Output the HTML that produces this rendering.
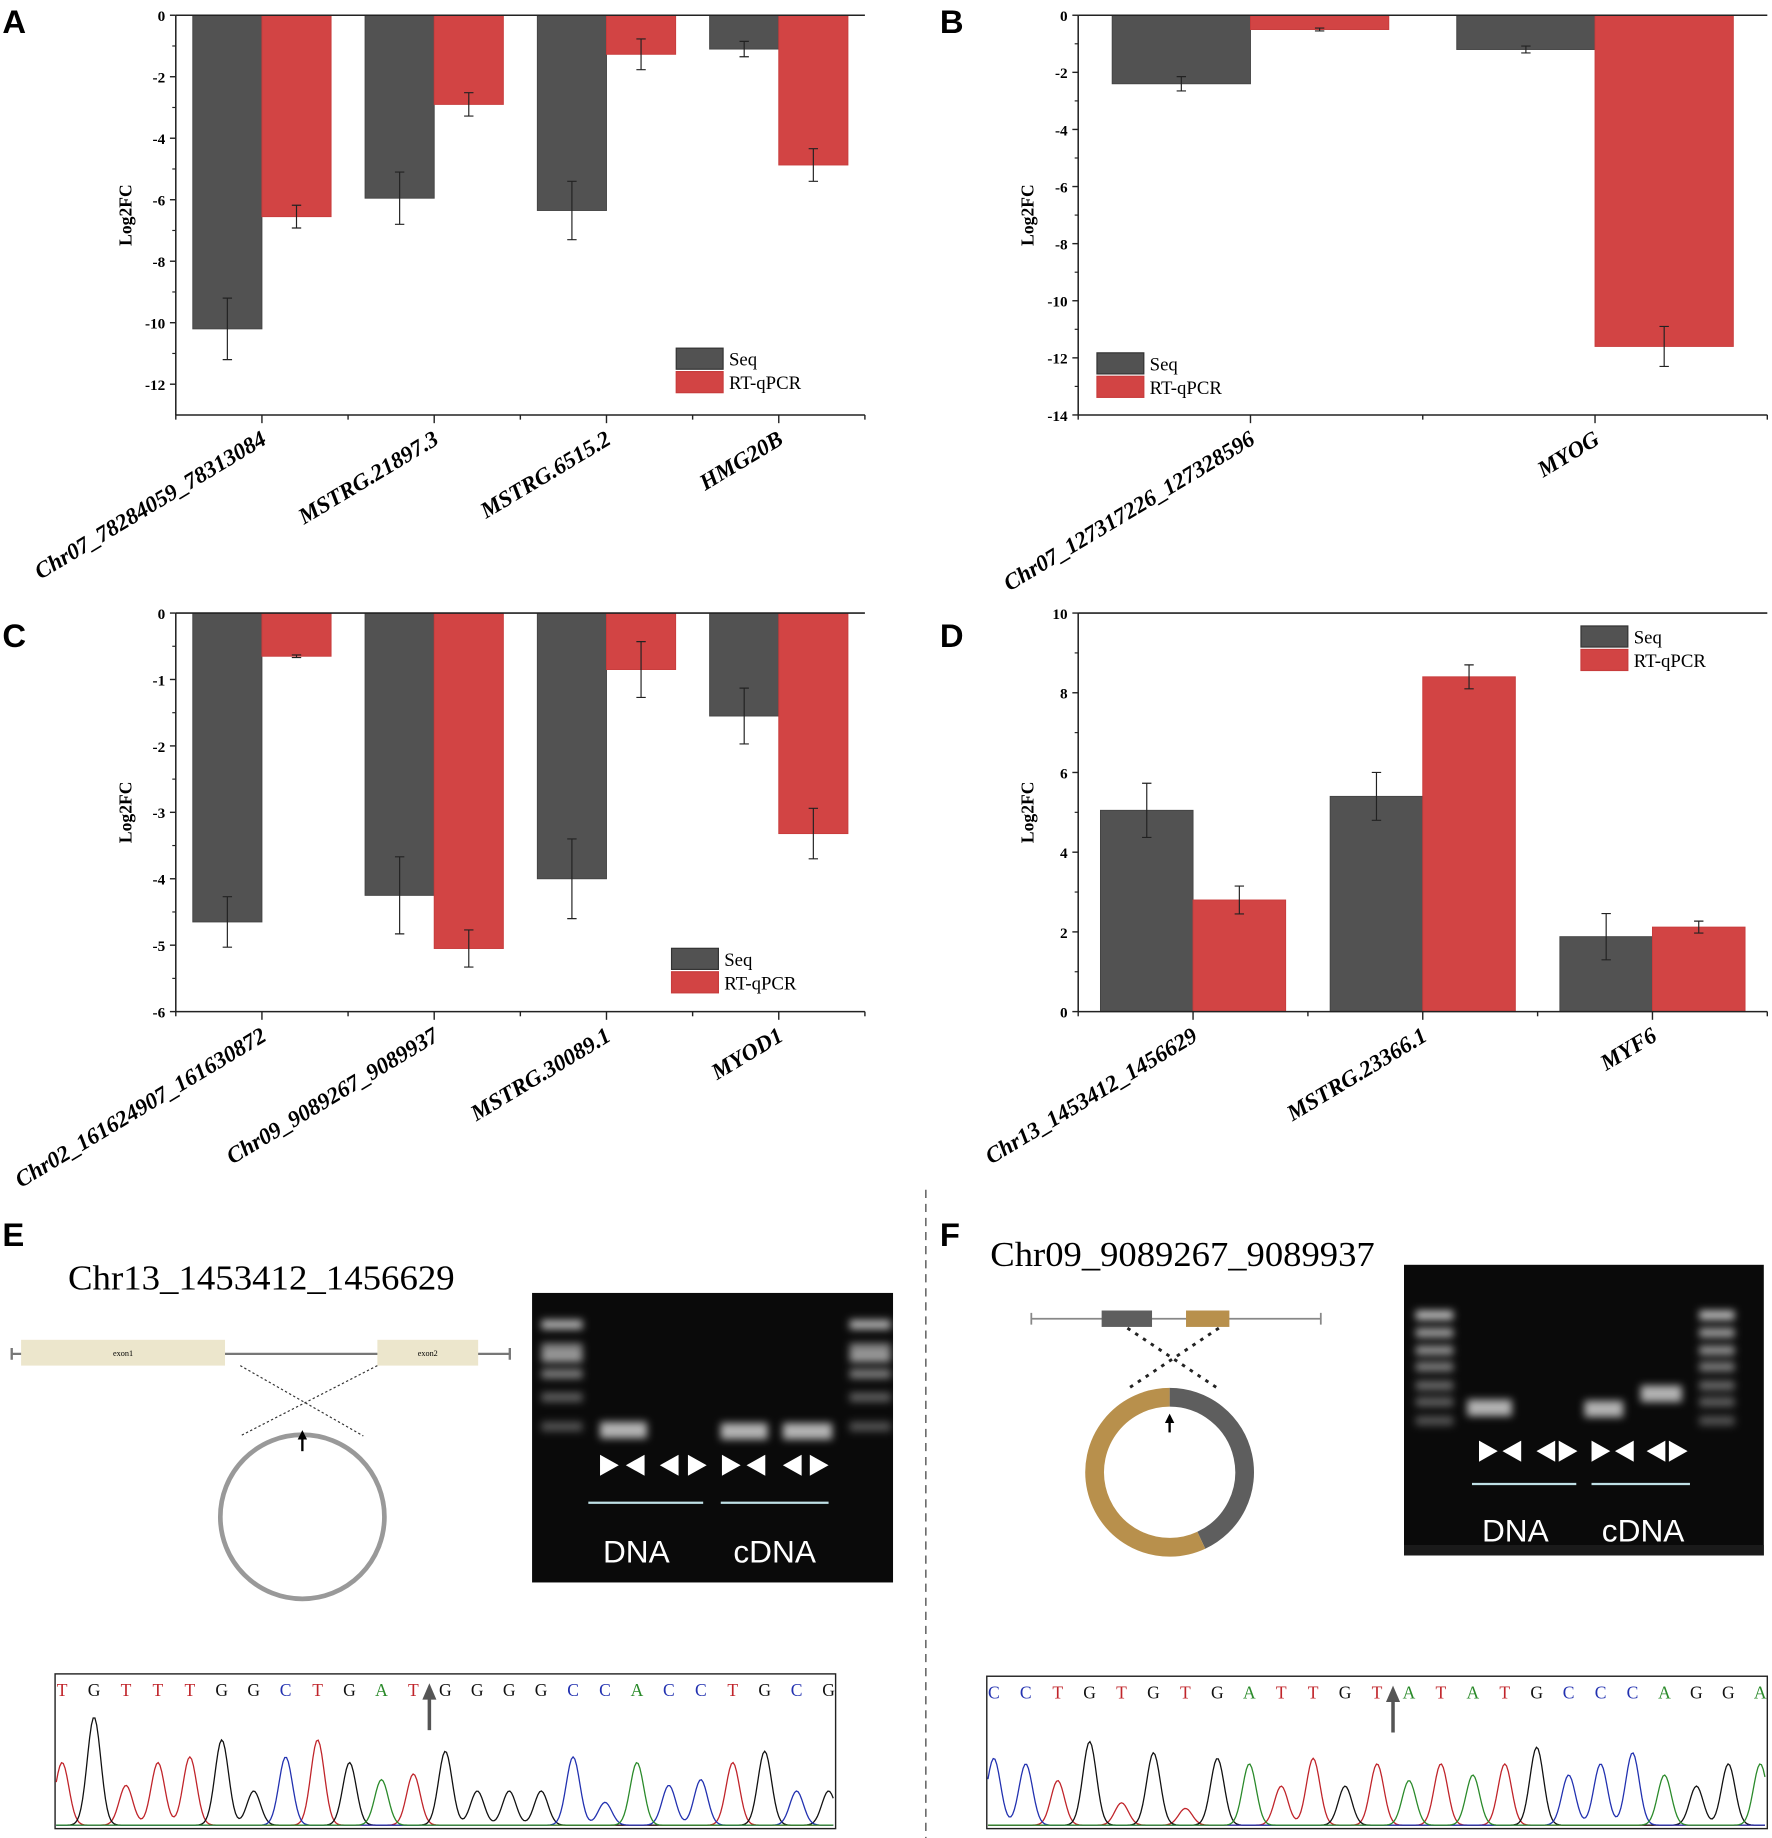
<!DOCTYPE html>
<html><head><meta charset="utf-8">
<style>
html,body{margin:0;padding:0;background:#fff;}
svg{display:block;}
text{font-family:"Liberation Serif",serif;}
.sans{font-family:"Liberation Sans",sans-serif;}
</style></head>
<body>
<svg id="fig" width="1772" height="1838" viewBox="0 0 1512 1568" preserveAspectRatio="none" xmlns="http://www.w3.org/2000/svg">
</svg>
<script>
// ---- Chart data ----
const catsA = ["Chr07_78284059_78313084","MSTRG.21897.3","MSTRG.6515.2","HMG20B"];
const seqA = [-10.2,-5.95,-6.35,-1.1];
const rtA = [-6.55,-2.9,-1.27,-4.87];
const seqErrA = [1.0,0.85,0.95,0.25];
const rtErrA = [0.37,0.38,0.5,0.53];
const ticksA = [0,-2,-4,-6,-8,-10,-12];

const catsB = ["Chr07_127317226_127328596","MYOG"];
const seqB = [-2.4,-1.2];
const rtB = [-0.5,-11.6];
const seqErrB = [0.25,0.12];
const rtErrB = [0.05,0.7];
const ticksB = [0,-2,-4,-6,-8,-10,-12,-14];

const catsC = ["Chr02_161624907_161630872","Chr09_9089267_9089937","MSTRG.30089.1","MYOD1"];
const seqC = [-4.65,-4.25,-4.0,-1.55];
const rtC = [-0.65,-5.05,-0.85,-3.32];
const seqErrC = [0.38,0.58,0.6,0.42];
const rtErrC = [0.02,0.28,0.42,0.38];
const ticksC = [0,-1,-2,-3,-4,-5,-6];

const catsD = ["Chr13_1453412_1456629","MSTRG.23366.1","MYF6"];
const seqD = [5.05,5.4,1.88];
const rtD = [2.8,8.4,2.12];
const seqErrD = [0.68,0.6,0.58];
const rtErrD = [0.35,0.3,0.15];
const ticksD = [0,2,4,6,8,10];

const seqE = "TGTTTGGCTGATGGGGCCACCTGCG";
const peakE = [0.55,0.95,0.35,0.55,0.6,0.75,0.3,0.6,0.75,0.55,0.4,0.45,0.65,0.3,0.3,0.3,0.6,0.2,0.55,0.35,0.4,0.55,0.65,0.3,0.3];
const seqF = "CCTGTGTGATTGTATATGCCCAGGA";
const peakF = [0.6,0.55,0.4,0.75,0.2,0.65,0.15,0.6,0.55,0.35,0.6,0.35,0.55,0.4,0.55,0.45,0.55,0.7,0.45,0.55,0.65,0.45,0.35,0.55,0.55];

const NS="http://www.w3.org/2000/svg";
const svg=document.getElementById('fig');
function el(tag,attrs,parent){const e=document.createElementNS(NS,tag);for(const k in attrs)e.setAttribute(k,attrs[k]);(parent||svg).appendChild(e);return e;}
function txt(s,attrs,parent){const e=el('text',attrs,parent);e.textContent=s;return e;}

const GRAY="#525252", RED="#d24444";

function barChart(o){
  const g=el('g',{});
  
  
  const y=v=>o.y0+(v-o.vTop)/(o.vBot-o.vTop)*(o.y1-o.y0);
  const slot=(o.x1-o.x0)/o.slots;
  const cx=i=>o.x0+slot*(o.first+i*o.step);
  o.cats.forEach((c,i)=>{
    const c0=cx(i), bw=o.bw;
    [[o.seq,o.seqErr,GRAY,c0-bw,'seq'],[o.rt,o.rtErr,RED,c0,'rt']].forEach(([vals,errs,col,xl,nm])=>{
      const v=vals[i], ya=y(0), yb=y(v);
      const r=el('rect',{x:xl,y:Math.min(ya,yb),width:bw,height:Math.abs(yb-ya),fill:col,stroke:col==GRAY?'#444':'#c83c3c','stroke-width':0.8},g);
      
      
      const ex=xl+bw/2, e=errs[i];
      const eb=el('path',{d:`M${ex},${y(v-e)}V${y(v+e)}M${ex-4},${y(v-e)}h8M${ex-4},${y(v+e)}h8`,stroke:'#222','stroke-width':1,fill:'none'},g);
      
      
    });
    const lx=c0+5, ly=o.labY;
    const lb=txt(c,{x:lx,y:ly,'text-anchor':'end','font-size':19.5,'font-weight':'bold','font-style':'italic',transform:`rotate(-31 ${lx} ${ly})`},g);
    
    
  });
  el('path',{d:`M${o.x0},${o.y0}V${o.y1}`,stroke:'#222','stroke-width':1.3},g);
  el('path',{d:`M${o.x0},${o.y1}H${o.x1}`,stroke:'#222','stroke-width':1.3},g);
  el('path',{d:`M${o.x0},${o.y0}H${o.x1}`,stroke:'#222','stroke-width':1.3},g);
  for(let k=0;k<=o.slots;k++){const xx=o.x0+slot*k;el('path',{d:`M${xx},${o.y1}v${(k%2==o.first%2)?7:4}`,stroke:'#222','stroke-width':1.2},g);}
  o.ticks.forEach((t,i)=>{
    el('path',{d:`M${o.x0},${y(t)}h-5`,stroke:'#222','stroke-width':1.2},g);
    if(i<o.ticks.length-1){const m=(t+o.ticks[i+1])/2;el('path',{d:`M${o.x0},${y(m)}h-3`,stroke:'#222','stroke-width':1},g);}
    const tl=txt(String(t),{x:o.x0-9,y:y(t)+5,'text-anchor':'end','font-size':13,'font-weight':'bold'},g);
    
    
  });
  const yt=txt('Log2FC',{x:0,y:0,'text-anchor':'middle','font-size':15,'font-weight':'bold',transform:`translate(${o.x0-38},${(o.y0+o.y1)/2}) rotate(-90)`},g);
  
  
  const lg=el('g',{},g);
  
  
  el('rect',{x:o.lx,y:o.ly,width:40,height:18,fill:GRAY,stroke:'#333'},lg);
  el('rect',{x:o.lx,y:o.ly+20,width:40,height:18,fill:RED,stroke:'#c83c3c'},lg);
  txt('Seq',{x:o.lx+45,y:o.ly+15,'font-size':16},lg);
  txt('RT-qPCR',{x:o.lx+45,y:o.ly+35,'font-size':16},lg);
}

barChart({name:'chart-a',cats:catsA,seq:seqA,rt:rtA,seqErr:seqErrA,rtErr:rtErrA,ticks:ticksA,x0:150,x1:738,y0:13,y1:354,vTop:0,vBot:-13,slots:8,first:1,step:2,bw:59,labY:378,lx:577,ly:297});
barChart({name:'chart-b',cats:catsB,seq:seqB,rt:rtB,seqErr:seqErrB,rtErr:rtErrB,ticks:ticksB,x0:920,x1:1508,y0:13,y1:354,vTop:0,vBot:-14,slots:4,first:1,step:2,bw:118,labY:378,lx:936,ly:301});
barChart({name:'chart-c',cats:catsC,seq:seqC,rt:rtC,seqErr:seqErrC,rtErr:rtErrC,ticks:ticksC,x0:150,x1:738,y0:523,y1:863,vTop:0,vBot:-6,slots:8,first:1,step:2,bw:59,labY:887,lx:573,ly:809});
barChart({name:'chart-d',cats:catsD,seq:seqD,rt:rtD,seqErr:seqErrD,rtErr:rtErrD,ticks:ticksD,x0:920,x1:1508,y0:523,y1:863,vTop:10,vBot:0,slots:6,first:1,step:2,bw:79,labY:887,lx:1349,ly:534});

[['A',2,28],['B',802,28],['C',2,552],['D',802,552],['E',2,1063],['F',802,1063]].forEach(([l,x,yy])=>{
  const t=txt(l,{x:x,y:yy,'font-size':28,'font-weight':'bold',class:'sans'});
  
  
});
const dv=el('path',{d:'M790,1015V1568',stroke:'#555','stroke-width':1.2,'stroke-dasharray':'7,5'});



const gE=el('g',{});


txt('Chr13_1453412_1456629',{x:58,y:1100,'font-size':30,'textLength':330,lengthAdjust:'spacingAndGlyphs'},gE);
el('path',{d:'M10,1155H435M10,1150v10M435,1150v10',stroke:'#777','stroke-width':2},gE);
el('rect',{x:18,y:1143,width:174,height:22,fill:'#ece6cc'},gE);
el('rect',{x:322,y:1143,width:86,height:22,fill:'#ece6cc'},gE);
txt('exon1',{x:105,y:1157,'font-size':7,'text-anchor':'middle'},gE);
txt('exon2',{x:365,y:1157,'font-size':7,'text-anchor':'middle'},gE);
el('path',{d:'M205,1165L310,1225M322,1165L205,1225',stroke:'#333','stroke-width':1,'stroke-dasharray':'2,2'},gE);
el('ellipse',{cx:258,cy:1294,rx:70,ry:70,fill:'none',stroke:'#999','stroke-width':4},gE);
el('path',{d:'M258,1238V1222',stroke:'#000','stroke-width':2},gE);
el('path',{d:'M254,1228L258,1220L262,1228Z',fill:'#000'},gE);

const gF=el('g',{});


txt('Chr09_9089267_9089937',{x:845,y:1080,'font-size':30,'textLength':328,lengthAdjust:'spacingAndGlyphs'},gF);
el('path',{d:'M880,1125H1127M880,1120v10M1127,1120v10',stroke:'#888','stroke-width':1.5},gF);
el('rect',{x:940,y:1118,width:43,height:14,fill:'#5e5e5e'},gF);
el('rect',{x:1012,y:1118,width:37,height:14,fill:'#b8904c'},gF);
el('path',{d:'M962,1133L1040,1185M1040,1133L962,1185',stroke:'#222','stroke-width':2.5,'stroke-dasharray':'3,5'},gF);
(function(){const cx=998,cy=1256,r=64;const a=155*Math.PI/180;
 const ex=cx+r*Math.sin(a), ey=cy-r*Math.cos(a);
 el('path',{d:`M${cx},${cy-r}A${r},${r} 0 0 1 ${ex},${ey}`,fill:'none',stroke:'#5e5e5e','stroke-width':16},gF);
 el('path',{d:`M${ex},${ey}A${r},${r} 0 1 1 ${cx},${cy-r}`,fill:'none',stroke:'#b8904c','stroke-width':16},gF);
})();
el('path',{d:'M998,1222V1208',stroke:'#000','stroke-width':2},gF);
el('path',{d:'M994,1214L998,1206L1002,1214Z',fill:'#000'},gF);

const defs=el('defs',{});
const flt=el('filter',{id:'blur',x:'-20%',y:'-50%',width:'140%',height:'200%'},defs);el('feGaussianBlur',{stdDeviation:3.5},flt);
function gel(name,x,y,w,h,ladders,ladBands,bands,tris,lines,labels){
  const g=el('g',{});
  
  
  el('rect',{x:x,y:y,width:w,height:h,fill:'#0a0a0a'},g);
  const bg=el('g',{filter:'url(#blur)'},g);
  ladders.forEach(([lx,lw])=>ladBands.forEach(([by,op])=>el('rect',{x:lx,y:by-4,width:lw,height:8,fill:'#fff',opacity:op*0.85},bg)));
  bands.forEach(([bx,by,bw])=>el('rect',{x:bx,y:by-7,width:bw,height:14,fill:'#ddd',opacity:0.8},bg));
  tris.forEach(([tx,ty,dir])=>{const s=9;el('path',{d:dir>0?`M${tx},${ty-s}L${tx+16},${ty}L${tx},${ty+s}Z`:`M${tx+16},${ty-s}L${tx},${ty}L${tx+16},${ty+s}Z`,fill:'#fff'},g);});
  lines.forEach(([a,b,ly])=>el('path',{d:`M${a},${ly}H${b}`,stroke:'#bfe0e6','stroke-width':2},g));
  labels.forEach(([s,lx,ly])=>txt(s,{x:lx,y:ly,'font-size':27,fill:'#fff','text-anchor':'middle',class:'sans'},g));
}
gel('gel-e',454,1103,308,247,[[462,35],[725,35]],[[1130,0.8],[1150,0.6],[1158,0.7],[1172,0.55],[1192,0.4],[1217,0.35]],[[512,1220,40],[615,1221,40],[668,1221,42]],
  [[512,1250,1],[534,1250,-1],[563,1250,-1],[587,1250,1],[616,1250,1],[637,1250,-1],[668,1250,-1],[691,1250,1]],[[502,600,1282],[615,707,1282]],[['DNA',543,1333],['cDNA',661,1333]]);
gel('gel-f',1198,1079,307,248,[[1208,32],[1450,30]],[[1122,0.85],[1137,0.7],[1152,0.65],[1166,0.55],[1182,0.45],[1196,0.4],[1212,0.35]],[[1252,1201,38],[1352,1202,33],[1400,1189,35]],
  [[1262,1238,1],[1282,1238,-1],[1311,1238,-1],[1330,1238,1],[1358,1238,1],[1378,1238,-1],[1405,1238,-1],[1424,1238,1]],[[1256,1345,1266],[1358,1442,1266]],[['DNA',1293,1315],['cDNA',1402,1315]]);
el('rect',{x:1198,y:1318,width:307,height:9,fill:'#1a1a1a'});

const COL={T:'#c0242a',G:'#111',C:'#2231b0',A:'#2a8a2a'};
function chrom(name,seq,peaks,x0,x1,y0,y1,arrowIdx){
  const g=el('g',{});
  
  
  el('rect',{x:x0,y:y0,width:x1-x0,height:y1-y0,fill:'#fff',stroke:'#222','stroke-width':1.2},g);
  const n=seq.length, step=(x1-x0-12)/(n-1);
  const px=i=>x0+6+i*step;
  for(let i=0;i<n;i++){
    txt(seq[i],{x:px(i),y:y0+19,'font-size':15,fill:COL[seq[i]],'text-anchor':'middle'},g);
  }
  const base=y1-3, H=y1-y0-35;
  ['T','G','C','A'].forEach(b=>{
    let d='';
    for(let xx=x0+1;xx<=x1-1;xx+=1.5){
      let v=0;
      for(let i=0;i<n;i++) if(seq[i]===b){const dx=(xx-px(i))/(step*0.3);v+=peaks[i]*Math.exp(-dx*dx);}
      d+=(d?'L':'M')+xx.toFixed(1)+','+(base-v*H).toFixed(1);
    }
    el('path',{d:d,fill:'none',stroke:COL[b],'stroke-width':1.1},g);
  });
  const ax=(px(arrowIdx)+px(arrowIdx+1))/2;
  el('path',{d:`M${ax},${y0+48}V${y0+14}`,stroke:'#555','stroke-width':3},g);
  el('path',{d:`M${ax-6},${y0+22}L${ax},${y0+8}L${ax+6},${y0+22}Z`,fill:'#555'},g);
}
chrom('chromatogram-e',seqE,peakE,47,713,1428,1560,11);
chrom('chromatogram-f',seqF,peakF,842,1508,1430,1560,12);
</script>
</body></html>
